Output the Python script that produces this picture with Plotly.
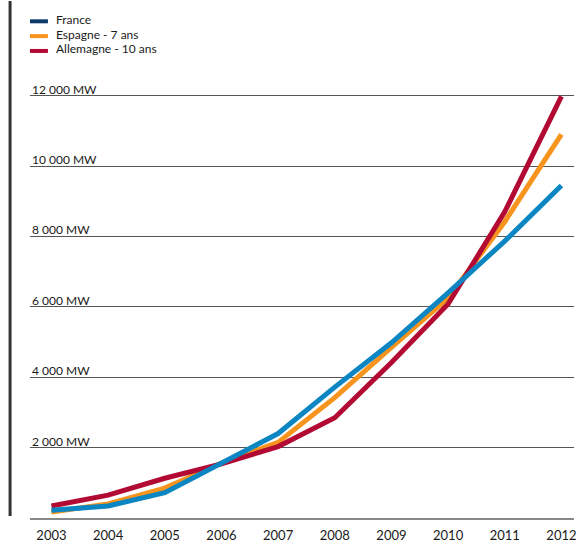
import plotly.graph_objects as go

years = [2003, 2004, 2005, 2006, 2007, 2008, 2009, 2010, 2011, 2012]
france = [220, 340, 720, 1560, 2400, 3720, 4980, 6400, 7870, 9450]
espagne = [170, 400, 850, 1560, 2150, 3420, 4850, 6250, 8420, 10900]
allemagne = [340, 650, 1130, 1540, 2030, 2850, 4420, 6080, 8700, 11980]

series_names = ["France", "Espagne - 7 ans", "Allemagne - 10 ans"]
line_colors = ["#0b86c2", "#f7941d", "#b20a33"]
legend_colors = ["#0c3b6b", "#f7941d", "#b20a33"]
y_ticks = [2000, 4000, 6000, 8000, 10000, 12000]
y_tick_labels = ["2 000 MW", "4 000 MW", "6 000 MW", "8 000 MW", "10 000 MW", "12 000 MW"]

W, H = 576, 543
ML, MR, MT, MB = 30, 0, 90, 20
PW, PH = W - ML - MR, H - MT - MB

fig = go.Figure()
data = {"France": france, "Espagne - 7 ans": espagne, "Allemagne - 10 ans": allemagne}
# draw order: orange, red, blue on top
for idx in [1, 2, 0]:
    name = series_names[idx]
    fig.add_trace(go.Scatter(x=years, y=data[name], mode="lines", name=name,
                             line=dict(color=line_colors[idx], width=5),
                             showlegend=False, hoverinfo="x+y+name"))

shapes = []
annotations = []
# left vertical bar
shapes.append(dict(type="line", xref="paper", yref="paper",
                   x0=-20 / PW, x1=-20 / PW, y0=-(521 - (H - MB)) / PH,
                   y1=(H - MB) / PH, line=dict(color="#333333", width=3)))
# manual legend
leg_y = [20.5, 35.5, 50.5]
for i, name in enumerate(series_names):
    yp = (H - MB - leg_y[i]) / PH
    shapes.append(dict(type="line", xref="paper", yref="paper",
                       x0=0, x1=18 / PW, y0=yp, y1=yp,
                       line=dict(color=legend_colors[i], width=4)))
    annotations.append(dict(text=name, xref="paper", yref="paper",
                            x=24 / PW, y=(H - MB - leg_y[i] + 2) / PH,
                            xanchor="left", yanchor="middle", showarrow=False,
                            font=dict(family="Lato", size=12, color="#1a1a1a")))
# y labels above gridlines
for v, lab in zip(y_ticks, y_tick_labels):
    annotations.append(dict(text=lab, xref="paper", yref="y", x=0, y=v,
                            xanchor="left", yanchor="bottom", showarrow=False,
                            yshift=-3, font=dict(family="Lato", size=12, color="#1a1a1a")))

fig.update_layout(
    width=W, height=H,
    margin=dict(l=ML, r=MR, t=MT, b=MB, pad=0),
    plot_bgcolor="white", paper_bgcolor="white",
    shapes=shapes, annotations=annotations,
    showlegend=False,
    xaxis=dict(range=[2002.622, 2012.222], tickvals=years, ticktext=[str(y) for y in years],
               showgrid=False, zeroline=False, showline=True, linecolor="#888888", linewidth=2,
               ticks="", tickfont=dict(family="Lato", size=13, color="#1a1a1a"), ticklabelstandoff=4,
               ticklabeloverflow="allow"),
    yaxis=dict(range=[0, 12163], tickvals=y_ticks, showticklabels=False,
               showgrid=True, gridcolor="#555555", gridwidth=1, zeroline=False, showline=False),
)

fig.write_html("out.html")
